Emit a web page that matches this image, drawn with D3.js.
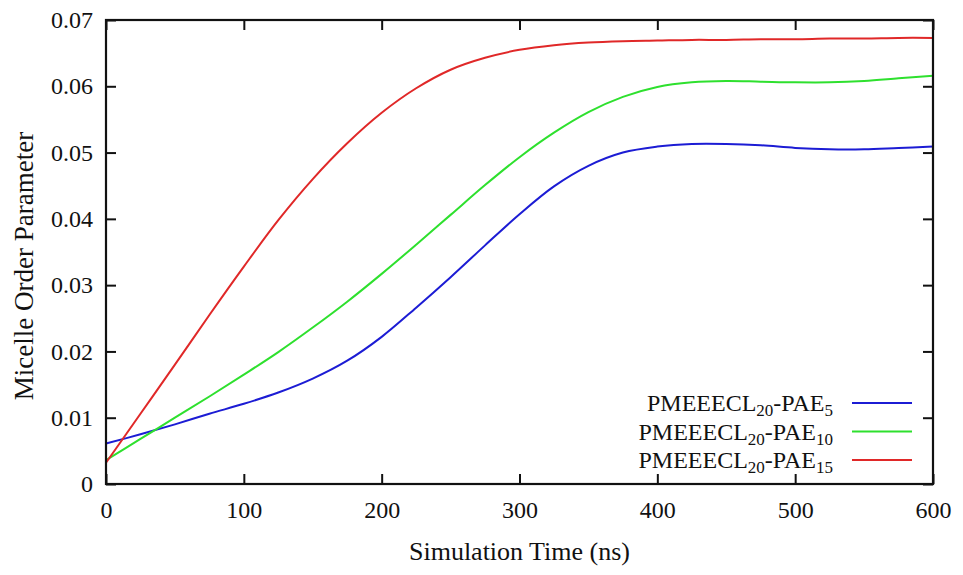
<!DOCTYPE html>
<html>
<head>
<meta charset="utf-8">
<script src="https://cdn.jsdelivr.net/npm/d3@7"></script>
<style>
  html, body { margin: 0; padding: 0; background: #fff; }
  svg { display: block; }
  svg text { font-family: "Liberation Serif", "Times New Roman", Times, "DejaVu Serif", serif; fill: #111; }
</style>
</head>
<body>
<svg id="chart" width="963" height="575"></svg>
<script>
// Simulation time (ns) and micelle order parameter
const timeNs = [0, 25, 50, 75, 100, 125, 150, 175, 200, 225, 250, 275, 300,
    325, 350, 375, 400, 425, 450, 475, 500, 525, 550, 575, 600];

const pae5 = [0.0061, 0.0075, 0.0090, 0.0106, 0.0121, 0.0138, 0.0159, 0.0186,
    0.0222, 0.0266, 0.0312, 0.0360, 0.0407, 0.0449, 0.0480, 0.0500, 0.0509,
    0.0513, 0.0513, 0.0511, 0.0507, 0.0505, 0.0505, 0.0507, 0.0509];

const pae10 = [0.0036, 0.0068, 0.0100, 0.0132, 0.0165, 0.0199, 0.0236, 0.0275,
    0.0317, 0.0361, 0.0406, 0.0451, 0.0493, 0.0530, 0.0561, 0.0584, 0.0599,
    0.0606, 0.0608, 0.0607, 0.0606, 0.0606, 0.0608, 0.0612, 0.0616];

const pae15 = [0.0032, 0.0106, 0.0180, 0.0255, 0.0328, 0.0398, 0.0460, 0.0514,
    0.0560, 0.0597, 0.0625, 0.0643, 0.0655, 0.0662, 0.0666, 0.0668, 0.0669,
    0.0670, 0.0670, 0.0671, 0.0671, 0.0672, 0.0672, 0.0673, 0.0673];

const xTicks = [0, 100, 200, 300, 400, 500, 600];
const yTicks = [0, 0.01, 0.02, 0.03, 0.04, 0.05, 0.06, 0.07];
const yTickLabels = ["0", "0.01", "0.02", "0.03", "0.04", "0.05", "0.06", "0.07"];

// legend label pieces: [main, sub, main, sub]
const seriesNames = [
    ["PMEEECL", "20", "-PAE", "5"],
    ["PMEEECL", "20", "-PAE", "10"],
    ["PMEEECL", "20", "-PAE", "15"],
];
const seriesValues = [pae5, pae10, pae15];
const seriesColors = ["#1c1cd4", "#2ee02e", "#e02828"];

const svg = d3.select("#chart");
const margin = { top: 20, right: 30, bottom: 91, left: 106 };
const width = 963 - margin.left - margin.right;
const height = 575 - margin.top - margin.bottom;

const x = d3.scaleLinear().domain([0, 600]).range([0, width]);
const y = d3.scaleLinear().domain([0, 0.07]).range([height, 0]);

const g = svg.append("g")
    .attr("transform", `translate(${margin.left},${margin.top})`);

function styleAxis(sel) {
    sel.attr("font-family", null).attr("font-size", null);
    sel.select(".domain").remove();
    sel.selectAll(".tick line").attr("stroke", "#111").attr("stroke-width", 2);
    sel.selectAll("text").style("font-size", "24px");
}

// bottom + left with labels, top + right mirrored ticks
g.append("g")
    .attr("transform", `translate(0,${height})`)
    .call(d3.axisBottom(x).tickValues(xTicks).tickSize(-10).tickSizeOuter(0).tickPadding(17))
    .call(styleAxis);

g.append("g")
    .call(d3.axisLeft(y).tickValues(yTicks).tickSize(-10).tickSizeOuter(0).tickPadding(13)
        .tickFormat((d, i) => yTickLabels[i]))
    .call(styleAxis);

g.append("g")
    .call(d3.axisTop(x).tickValues(xTicks).tickSize(-10).tickSizeOuter(0).tickFormat(""))
    .call(styleAxis);

g.append("g")
    .attr("transform", `translate(${width},0)`)
    .call(d3.axisRight(y).tickValues(yTicks).tickSize(-10).tickSizeOuter(0).tickFormat(""))
    .call(styleAxis);

// Lines
const line = d3.line()
    .x((d, i) => x(timeNs[i]))
    .y((d) => y(d))
    .curve(d3.curveCatmullRom.alpha(0.5));

seriesValues.forEach((vals, k) => {
    g.append("path")
        .datum(vals)
        .attr("fill", "none")
        .attr("stroke", seriesColors[k])
        .attr("stroke-width", 2)
        .attr("d", line);
});

// Frame
g.append("rect")
    .attr("x", 0).attr("y", 0)
    .attr("width", width).attr("height", height)
    .attr("fill", "none")
    .attr("stroke", "#111")
    .attr("stroke-width", 2.2);

// Legend (bottom-right inside plot)
const legend = g.append("g")
    .attr("transform", `translate(${width - 21}, ${height - 81})`);

seriesNames.forEach((parts, k) => {
    const row = legend.append("g").attr("transform", `translate(0, ${k * 28.5})`);
    row.append("line")
        .attr("x1", -60).attr("x2", 0)
        .attr("y1", 0).attr("y2", 0)
        .attr("stroke", seriesColors[k])
        .attr("stroke-width", 2);
    const t = row.append("text")
        .attr("x", -79).attr("y", 8)
        .attr("text-anchor", "end")
        .style("font-size", "24px");
    t.append("tspan").text(parts[0]);
    t.append("tspan").attr("dy", 5).style("font-size", "17px").text(parts[1]);
    t.append("tspan").attr("dy", -5).text(parts[2]);
    t.append("tspan").attr("dy", 5).style("font-size", "17px").text(parts[3]);
});

// Axis titles
svg.append("text")
    .attr("x", margin.left + width / 2)
    .attr("y", 560)
    .attr("text-anchor", "middle")
    .style("font-size", "26px")
    .text("Simulation Time (ns)");

svg.append("text")
    .attr("transform", "translate(33, 266) rotate(-90)")
    .attr("text-anchor", "middle")
    .style("font-size", "27px")
    .text("Micelle Order Parameter");
</script>
</body>
</html>
